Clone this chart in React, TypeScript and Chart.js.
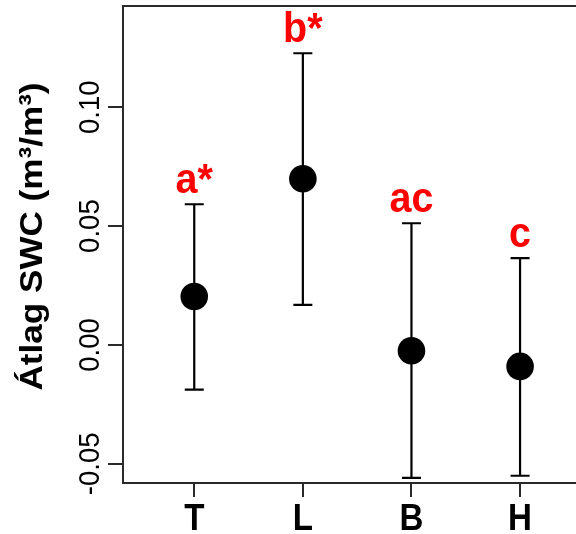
import React, { useEffect, useRef } from "react";
import { Chart, registerables } from "chart.js";

Chart.register(...registerables);

const categories = ["T", "L", "B", "H"];
const means = [0.0204, 0.0699, -0.0024, -0.009];
const upper = [0.0592, 0.1227, 0.0512, 0.0365];
const lower = [-0.0188, 0.0169, -0.0559, -0.055];
const sigLabels = ["a*", "b*", "ac", "c"];
const yTickValues = [-0.05, 0.0, 0.05, 0.1];
const yTickLabels = ["-0.05", "0.00", "0.05", "0.10"];
const yTitle = "Átlag SWC (m³/m³)";

const FONT = "'Liberation Sans', Arial, Helvetica, sans-serif";
const AXIS_COLOR = "#2a2a2a";

const overlayPlugin = {
  id: "overlay",
  beforeDatasetsDraw(chart: any) {
    const ctx = chart.ctx;
    const xs = chart.scales.x;
    const ys = chart.scales.y;
    const area = chart.chartArea;
    ctx.save();
    // top frame line
    ctx.strokeStyle = AXIS_COLOR;
    ctx.lineWidth = 2;
    ctx.beginPath();
    ctx.moveTo(area.left - 1, area.top);
    ctx.lineTo(area.right, area.top);
    ctx.stroke();
    // error bars
    ctx.strokeStyle = "#000";
    ctx.lineWidth = 2.2;
    const cap = 9.5;
    categories.forEach((_, i) => {
      const px = xs.getPixelForValue(i + 1);
      const pu = ys.getPixelForValue(upper[i]);
      const pl = ys.getPixelForValue(lower[i]);
      ctx.beginPath();
      ctx.moveTo(px, pu);
      ctx.lineTo(px, pl);
      ctx.moveTo(px - cap, pu);
      ctx.lineTo(px + cap, pu);
      ctx.moveTo(px - cap, pl);
      ctx.lineTo(px + cap, pl);
      ctx.stroke();
    });
    ctx.restore();
  },
  afterDraw(chart: any) {
    const ctx = chart.ctx;
    const xs = chart.scales.x;
    const ys = chart.scales.y;
    const area = chart.chartArea;
    ctx.save();
    // significance letters
    ctx.fillStyle = "#ff0000";
    ctx.font = `bold 42px ${FONT}`;
    ctx.textAlign = "center";
    ctx.textBaseline = "alphabetic";
    categories.forEach((_, i) => {
      const px = xs.getPixelForValue(i + 1);
      const pu = ys.getPixelForValue(upper[i]);
      ctx.save();
      ctx.translate(px, pu - 11);
      ctx.scale(0.94, 1);
      ctx.fillText(sigLabels[i], 0, 0);
      ctx.restore();
    });
    // x labels
    ctx.fillStyle = "#000";
    ctx.font = `bold 36px ${FONT}`;
    categories.forEach((c, i) => {
      const px = xs.getPixelForValue(i + 1);
      ctx.save();
      ctx.translate(px, area.bottom + 47);
      ctx.scale(0.92, 1);
      ctx.fillText(c, 0, 0);
      ctx.restore();
    });
    // y tick labels (rotated)
    ctx.font = `29px ${FONT}`;
    yTickValues.forEach((v, i) => {
      const py = ys.getPixelForValue(v);
      ctx.save();
      ctx.translate(area.left - 24.5, py);
      ctx.rotate(-Math.PI / 2);
      ctx.scale(0.95, 1);
      ctx.fillText(yTickLabels[i], 0, 0);
      ctx.restore();
    });
    // y title
    ctx.font = `bold 32px ${FONT}`;
    const w = ctx.measureText(yTitle).width;
    ctx.save();
    ctx.translate(42, (area.top + area.bottom) / 2 - 8);
    ctx.rotate(-Math.PI / 2);
    ctx.scale(308 / w, 1);
    ctx.fillText(yTitle, 0, 0);
    ctx.restore();
    ctx.restore();
  },
};

export default function App() {
  const ref = useRef<HTMLCanvasElement | null>(null);
  useEffect(() => {
    if (!ref.current) return;
    const chart = new Chart(ref.current, {
      type: "scatter",
      data: {
        datasets: [
          {
            data: means.map((m, i) => ({ x: i + 1, y: m })),
            backgroundColor: "#000",
            borderColor: "#000",
            pointRadius: 13.8,
            pointHoverRadius: 13.8,
            borderWidth: 0,
          },
        ],
      },
      options: {
        animation: false,
        responsive: false,
        events: [],
        layout: { autoPadding: false, padding: { top: 6, right: 0, left: 0, bottom: 0 } },
        plugins: { legend: { display: false }, tooltip: { enabled: false } },
        scales: {
          x: {
            type: "linear",
            min: 0.344,
            max: 4.515,
            afterBuildTicks: (s: any) => {
              s.ticks = categories.map((_, i) => ({ value: i + 1 }));
            },
            afterFit: (s: any) => {
              s.height = 51;
            },
            ticks: { display: false },
            grid: {
              display: true,
              drawOnChartArea: false,
              drawTicks: true,
              tickLength: 14,
              color: AXIS_COLOR,
              lineWidth: 2,
            },
            border: { display: true, color: AXIS_COLOR, width: 2 },
          },
          y: {
            type: "linear",
            min: -0.05805,
            max: 0.14258,
            afterBuildTicks: (s: any) => {
              s.ticks = yTickValues.map((v) => ({ value: v }));
            },
            afterFit: (s: any) => {
              s.width = 123;
            },
            ticks: { display: false },
            grid: {
              display: true,
              drawOnChartArea: false,
              drawTicks: true,
              tickLength: 15,
              color: AXIS_COLOR,
              lineWidth: 2,
            },
            border: { display: true, color: AXIS_COLOR, width: 2 },
          },
        },
      },
      plugins: [overlayPlugin],
    });
    return () => chart.destroy();
  }, []);
  return (
    <div style={{ position: "fixed", left: 0, top: 0, width: 576, height: 534, background: "#fff" }}>
      <canvas ref={ref} width={576} height={534} style={{ display: "block" }} />
    </div>
  );
}
